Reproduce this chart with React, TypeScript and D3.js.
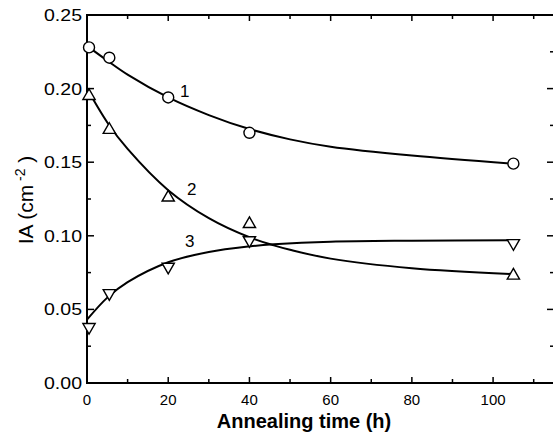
import React, { useRef, useEffect } from "react";
import * as d3 from "d3";

// measured points
const pointTimes = [0.5, 5.5, 20, 40, 105];
const series1 = [0.228, 0.221, 0.194, 0.170, 0.149];
const series2 = [0.195, 0.172, 0.126, 0.108, 0.073];
const series3 = [0.038, 0.061, 0.079, 0.097, 0.095];

// fitted curves
const fit1Times = [0, 5, 10, 20, 30, 40, 50, 60, 80, 105];
const fit1 = [0.229, 0.219, 0.2095, 0.194, 0.182, 0.1725, 0.1655, 0.1605, 0.1545, 0.149];
const fit2Times = [0, 5, 10, 20, 30, 40, 46, 50, 60, 80, 105];
const fit2 = [0.200, 0.177, 0.159, 0.131, 0.112, 0.099, 0.0935, 0.0905, 0.0845, 0.078, 0.074];
const fit3Times = [0, 5, 10, 20, 30, 40, 46, 60, 80, 105];
const fit3 = [0.043, 0.058, 0.0685, 0.082, 0.089, 0.0928, 0.0942, 0.096, 0.0967, 0.097];

const xTicks = [0, 20, 40, 60, 80, 100];
const yTicks = [0, 0.05, 0.1, 0.15, 0.2, 0.25];

const App = () => {
  const svgRef = useRef(null);

  useEffect(() => {
    const svg = d3.select(svgRef.current);
    svg.selectAll("*").remove();

    const width = 553;
    const height = 443;
    const left = 87;
    const right = 554;
    const top = 15;
    const bottom = 383;
    const font = "'Liberation Sans', Arial, sans-serif";

    const x = d3.scaleLinear().domain([0, 115]).range([left, right]);
    const y = d3.scaleLinear().domain([0, 0.25]).range([bottom, top]);

    svg.attr("width", width).attr("height", height);

    // frame
    svg
      .append("rect")
      .attr("x", left)
      .attr("y", top)
      .attr("width", right - left)
      .attr("height", bottom - top)
      .attr("fill", "none")
      .attr("stroke", "#000")
      .attr("stroke-width", 2);

    const ticks = svg.append("g").attr("stroke", "#000").attr("stroke-width", 1.5);

    // x ticks, pointing inward
    d3.range(0, 116, 10).forEach((t) => {
      const major = t % 20 === 0;
      const len = major ? 6 : 4;
      ticks.append("line").attr("x1", x(t)).attr("x2", x(t)).attr("y1", bottom).attr("y2", bottom - len);
      ticks.append("line").attr("x1", x(t)).attr("x2", x(t)).attr("y1", top).attr("y2", top + len);
    });

    // y ticks
    d3.range(0, 0.2501, 0.025).forEach((t, i) => {
      const len = i % 2 === 0 ? 7 : 4;
      ticks.append("line").attr("x1", left).attr("x2", left + len).attr("y1", y(t)).attr("y2", y(t));
      ticks.append("line").attr("x1", right).attr("x2", right - len).attr("y1", y(t)).attr("y2", y(t));
    });

    // tick labels
    svg
      .append("g")
      .selectAll("text")
      .data(xTicks)
      .enter()
      .append("text")
      .attr("x", (d) => x(d))
      .attr("y", 405)
      .attr("text-anchor", "middle")
      .attr("font-family", font)
      .attr("font-size", 15)
      .text((d) => d);

    svg
      .append("g")
      .selectAll("text")
      .data(yTicks)
      .enter()
      .append("text")
      .attr("x", 82)
      .attr("y", (d) => y(d) + 6)
      .attr("text-anchor", "end")
      .attr("font-family", font)
      .attr("font-size", 16.5)
      .attr("textLength", 38)
      .attr("lengthAdjust", "spacingAndGlyphs")
      .text((d) => d3.format(".2f")(d));

    // axis titles
    svg
      .append("text")
      .attr("x", 304)
      .attr("y", 428)
      .attr("text-anchor", "middle")
      .attr("font-family", font)
      .attr("font-size", 20)
      .attr("font-weight", "bold")
      .text("Annealing time (h)");

    const yTitle = svg
      .append("text")
      .attr("transform", "translate(33,200) rotate(-90)")
      .attr("text-anchor", "middle")
      .attr("font-family", font)
      .attr("font-size", 21);
    yTitle.append("tspan").text("IA (cm");
    yTitle.append("tspan").attr("font-size", 14).attr("dy", -8).text(" -2");
    yTitle.append("tspan").attr("dy", 8).text(" )");

    // fitted curves
    const line = d3
      .line()
      .x((d) => x(d[0]))
      .y((d) => y(d[1]))
      .curve(d3.curveCatmullRom);

    [
      [fit1Times, fit1],
      [fit2Times, fit2],
      [fit3Times, fit3],
    ].forEach(([ts, vs]) => {
      svg
        .append("path")
        .attr("d", line(ts.map((t, i) => [t, vs[i]])))
        .attr("fill", "none")
        .attr("stroke", "#000")
        .attr("stroke-width", 2);
    });

    // markers
    const markers = svg.append("g").attr("fill", "#fff").attr("stroke", "#000").attr("stroke-width", 1.4);

    series1.forEach((v, i) => {
      markers.append("circle").attr("cx", x(pointTimes[i])).attr("cy", y(v)).attr("r", 5.5);
    });

    const up = d3.symbol().type(d3.symbolTriangle).size(65);
    series2.forEach((v, i) => {
      markers
        .append("path")
        .attr("d", up())
        .attr("transform", `translate(${x(pointTimes[i])},${y(v)})`);
    });
    series3.forEach((v, i) => {
      markers
        .append("path")
        .attr("d", up())
        .attr("transform", `translate(${x(pointTimes[i])},${y(v)}) rotate(180)`);
    });

    // curve labels
    [
      ["1", 180, 97],
      ["2", 187, 195],
      ["3", 185, 247],
    ].forEach(([s, lx, ly]) => {
      svg
        .append("text")
        .attr("x", lx)
        .attr("y", ly)
        .attr("font-family", font)
        .attr("font-size", 17)
        .text(s);
    });
  }, []);

  return <svg ref={svgRef} style={{ position: "absolute", left: 0, top: 0 }} />;
};

export default App;
